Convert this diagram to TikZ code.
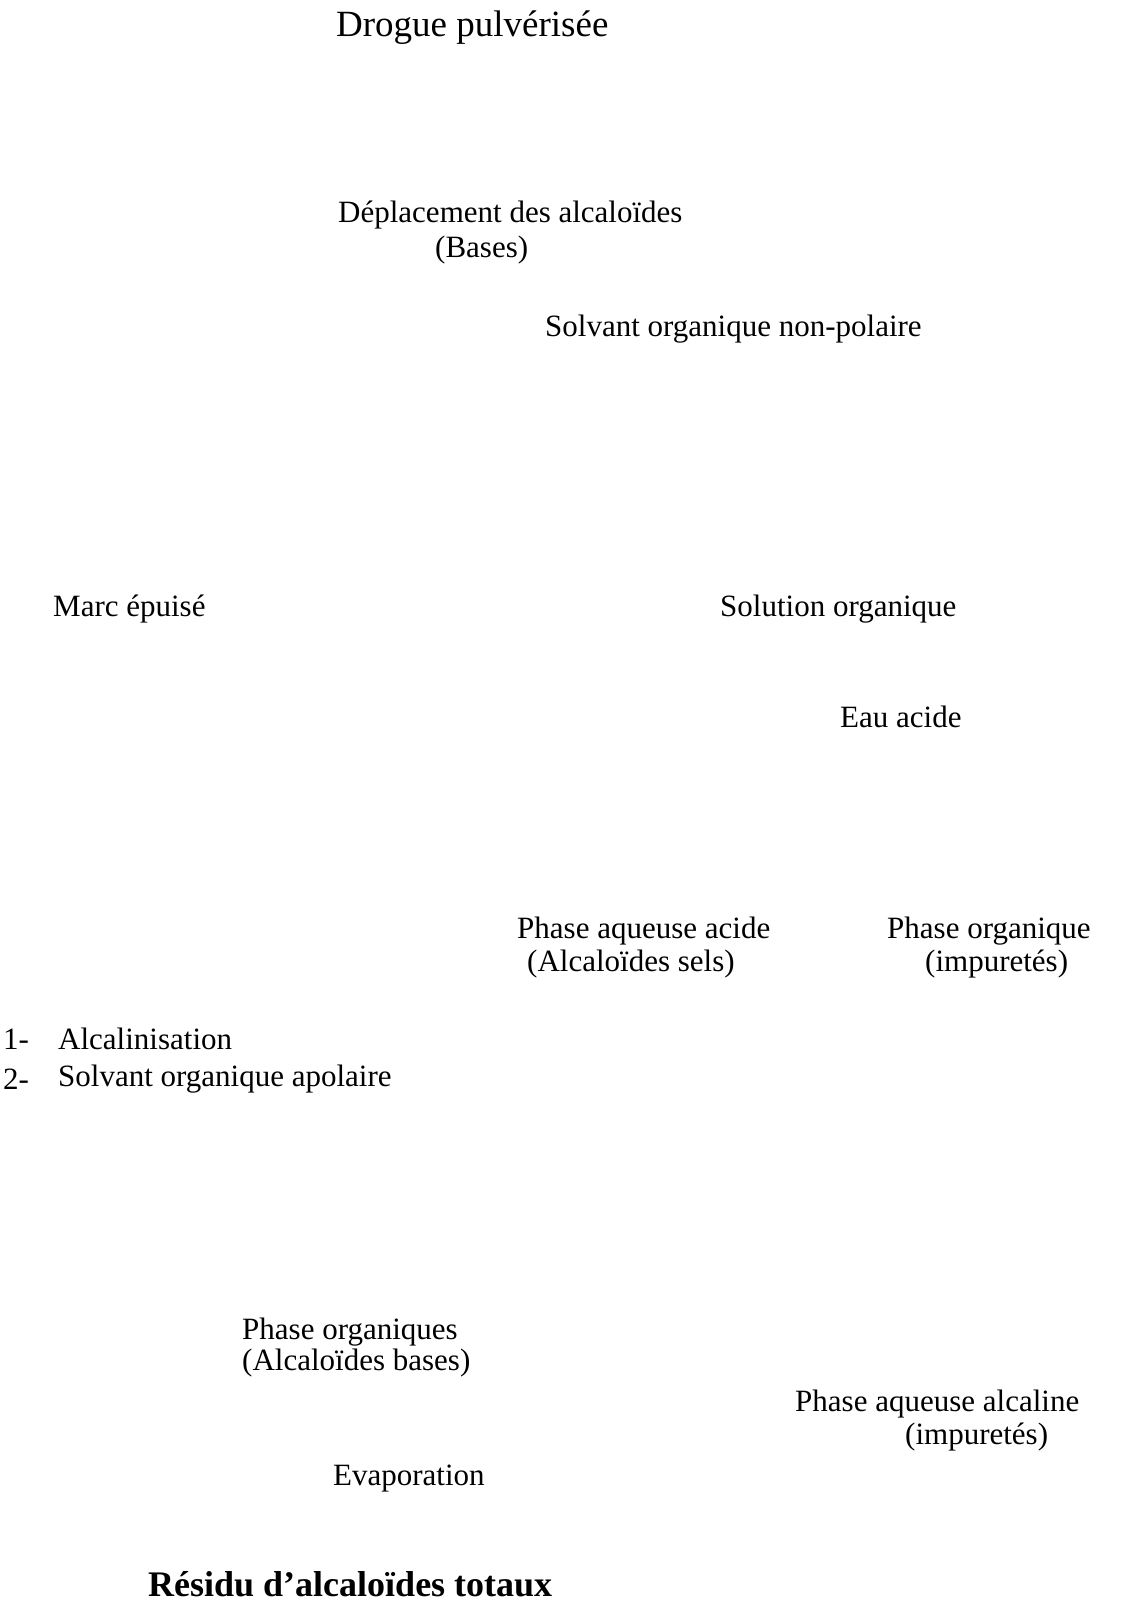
\documentclass[tikz,border=0pt]{standalone}
\usepackage{fontspec}
\setmainfont{Liberation Serif}
\begin{document}
\begin{tikzpicture}[x=1pt,y=-1pt,
  lbl/.style={anchor=west,inner sep=0pt,font=\fontsize{31}{37}\selectfont},
  big/.style={anchor=west,inner sep=0pt,font=\fontsize{37}{44}\selectfont},
  res/.style={anchor=west,inner sep=0pt,font=\fontsize{36}{43}\selectfont\bfseries}]
\useasboundingbox[fill=white] (0,0) rectangle (1125,1605);
\node[big] (drogue) at (336,28) {Drogue pulvérisée};
\node[lbl] (depl) at (338,215) {Déplacement des alcaloïdes};
\node[lbl] (bases) at (435,250) {(Bases)};
\node[lbl] (solv) at (545,329) {Solvant organique non-polaire};
\node[lbl] (marc) at (53,609) {Marc épuisé};
\node[lbl] (solorg) at (720,609) {Solution organique};
\node[lbl] (eau) at (840,717) {Eau acide};
\node[lbl] (paa) at (517,931) {Phase aqueuse acide};
\node[lbl] (sels) at (527,964) {(Alcaloïdes sels)};
\node[lbl] (porg) at (887,931) {Phase organique};
\node[lbl] (imp1) at (925,964) {(impuretés)};
\node[lbl] (n1) at (3,1039) {1-};
\node[lbl] (alc) at (58,1039) {Alcalinisation};
\node[lbl] (n2) at (3,1079) {2-};
\node[lbl] (apol) at (58,1079) {Solvant organique apolaire};
\node[lbl] (porgs) at (242,1332) {Phase organiques};
\node[lbl] (abases) at (242,1363) {(Alcaloïdes bases)};
\node[lbl] (paal) at (795,1404) {Phase aqueuse alcaline};
\node[lbl] (imp2) at (905,1437) {(impuretés)};
\node[lbl] (evap) at (333,1479) {Evaporation};
\node[res] (residu) at (148,1584) {Résidu d’alcaloïdes totaux};
\end{tikzpicture}
\end{document}
